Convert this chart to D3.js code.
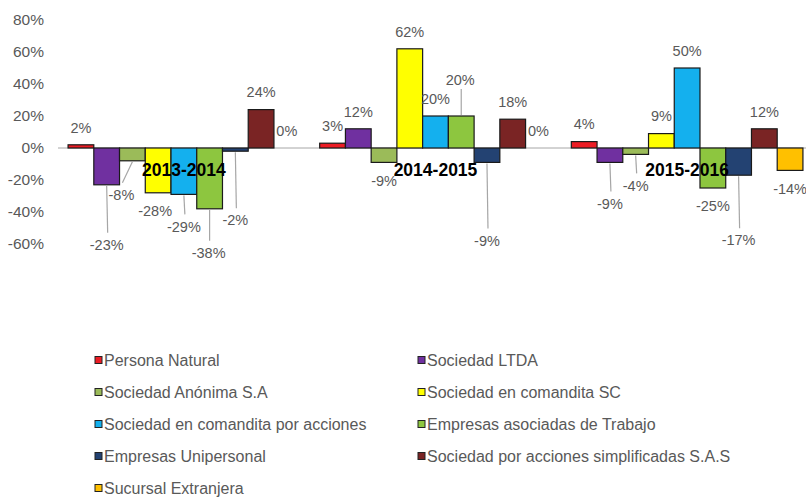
<!DOCTYPE html>
<html>
<head>
<meta charset="utf-8">
<script src="https://cdn.jsdelivr.net/npm/d3@7"></script>
<style>
  html, body { margin: 0; padding: 0; background: #fff; }
  svg { display: block; }
</style>
</head>
<body>
<div id="chart"></div>
<script>
// ---- data ----
const groups = ["2013-2014", "2014-2015", "2015-2016"];
const seriesNames = [
  "Persona Natural",
  "Sociedad LTDA",
  "Sociedad Anónima S.A",
  "Sociedad en comandita SC",
  "Sociedad en comandita por acciones",
  "Empresas asociadas de Trabajo",
  "Empresas Unipersonal",
  "Sociedad por acciones simplificadas S.A.S",
  "Sucursal Extranjera"
];
const values2013_2014 = [2, -23, -8, -28, -29, -38, -2, 24, 0];
const values2014_2015 = [3, 12, -9, 62, 20, 20, -9, 18, 0];
const values2015_2016 = [4, -9, -4, 9, 50, -25, -17, 12, -14];
const yTicks = [-60, -40, -20, 0, 20, 40, 60, 80];

// ---- styles / layout ----
const seriesColors = ["#ec1c24", "#7030a0", "#9bbb59", "#ffff00", "#14b0ee",
                      "#8dc63f", "#234272", "#7a2424", "#ffc000"];
// label nudges (layout only): group index, series index, dx, dy, leader line
const labelNudges = [
  {g: 0, s: 1, dx: 0, dy: 42, leader: true},
  {g: 0, s: 2, dx: -11, dy: 16, leader: true},
  {g: 0, s: 3, dx: -3, dy: 0, leader: false},
  {g: 0, s: 4, dx: 0, dy: 14, leader: true},
  {g: 0, s: 5, dx: -1, dy: 26, leader: true},
  {g: 0, s: 6, dx: 0, dy: 51, leader: true},
  {g: 1, s: 5, dx: -1, dy: -18.5, leader: true},
  {g: 1, s: 6, dx: 0, dy: 60, leader: true},
  {g: 2, s: 1, dx: 0, dy: 23, leader: true},
  {g: 2, s: 2, dx: 0, dy: 13, leader: true},
  {g: 2, s: 6, dx: 0, dy: 47, leader: true}
];

const W = 806, H = 497;
const font = "'Liberation Sans', Arial, sans-serif";
const textGray = "#595959";

const allValues = [values2013_2014, values2014_2015, values2015_2016];
const rows = [];
groups.forEach((g, gi) => {
  seriesNames.forEach((s, si) => {
    rows.push({group: g, gi, series: s, si, value: allValues[gi][si]});
  });
});

const svg = d3.select("#chart").append("svg")
  .attr("width", W).attr("height", H);

const x0 = d3.scaleBand().domain(groups).range([58, 813])
  .paddingInner(0.0795).paddingOuter(0.04);
const x1 = d3.scaleBand().domain(seriesNames).range([0, x0.bandwidth()]).padding(0);
const y = d3.scaleLinear().domain([-60, 80]).range([244, 20]);
const color = d3.scaleOrdinal().domain(seriesNames).range(seriesColors);

// y axis labels
const yAxis = d3.axisLeft(y).tickValues(yTicks).tickFormat(d => d + "%").tickSize(0).tickPadding(0);
const yg = svg.append("g").attr("transform", "translate(44,0)").call(yAxis);
yg.select(".domain").remove();
yg.selectAll("text").attr("fill", textGray).style("font-family", font).style("font-size", "15.5px");

// zero line
svg.append("line")
  .attr("x1", 58).attr("x2", 806)
  .attr("y1", y(0)).attr("y2", y(0))
  .attr("stroke", "#a6a6a6").attr("stroke-width", 1);

// bars
const gGroups = svg.append("g").selectAll("g").data(groups).join("g")
  .attr("transform", d => `translate(${x0(d)},0)`);
gGroups.selectAll("rect")
  .data(g => rows.filter(r => r.group === g && r.value !== 0))
  .join("rect")
  .attr("x", d => x1(d.series))
  .attr("width", x1.bandwidth())
  .attr("y", d => y(Math.max(0, d.value)))
  .attr("height", d => Math.abs(y(d.value) - y(0)))
  .attr("fill", d => color(d.series))
  .attr("stroke", "#1a1a1a").attr("stroke-width", 1.2);

// data labels
function labelPos(d) {
  const cx = x0(d.group) + x1(d.series) + x1.bandwidth() / 2;
  const base = d.value >= 0 ? y(d.value) - 17.5 : y(d.value) + 18;
  const n = labelNudges.find(k => k.g === d.gi && k.s === d.si);
  return {
    barX: cx, barEnd: y(d.value),
    x: cx + (n ? n.dx : 0), y: base + (n ? n.dy : 0),
    leader: n ? n.leader : false
  };
}
const leaders = svg.append("g");
rows.forEach(d => {
  const p = labelPos(d);
  if (!p.leader) return;
  const neg = d.value < 0;
  leaders.append("line")
    .attr("x1", p.barX).attr("y1", p.barEnd + (neg ? 1 : -1))
    .attr("x2", p.x + (neg ? 1 : 1)).attr("y2", neg ? p.y - 12 : p.y + 9)
    .attr("stroke", "#a6a6a6").attr("stroke-width", 1.2);
});
svg.append("g").selectAll("text").data(rows).join("text")
  .attr("x", d => labelPos(d).x)
  .attr("y", d => labelPos(d).y)
  .attr("dy", "0.36em")
  .attr("text-anchor", "middle")
  .attr("fill", textGray)
  .style("font-family", font).style("font-size", "14.5px")
  .text(d => d.value + "%");

// group labels
svg.append("g").selectAll("text").data(groups).join("text")
  .attr("x", d => x0(d) + x0.bandwidth() / 2)
  .attr("y", 176)
  .attr("text-anchor", "middle")
  .attr("fill", "#000")
  .style("font-family", font).style("font-size", "17.5px").style("font-weight", "bold")
  .text(d => d);

// legend
const legendCols = [95, 418];
const legendRowY = d3.scalePoint().domain(d3.range(5)).range([360, 488]);
const leg = svg.append("g").selectAll("g").data(seriesNames).join("g")
  .attr("transform", (d, i) => `translate(${legendCols[i % 2]},${legendRowY(Math.floor(i / 2))})`);
leg.append("rect")
  .attr("x", 0).attr("y", -3.5).attr("width", 7).attr("height", 7)
  .attr("fill", d => color(d)).attr("stroke", "#222").attr("stroke-width", 1);
leg.append("text")
  .attr("x", 9).attr("y", 0).attr("dy", "0.36em")
  .attr("fill", textGray)
  .style("font-family", font).style("font-size", "16px")
  .text(d => d);
</script>
</body>
</html>
